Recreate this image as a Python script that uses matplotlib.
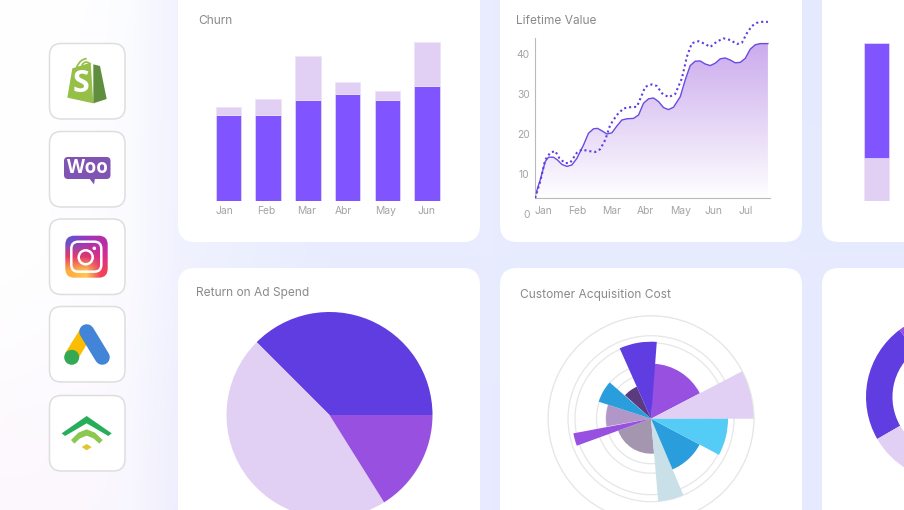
"""Marketing dashboard teaser: icon column plus six cropped chart cards."""

import matplotlib
matplotlib.use("Agg")
import matplotlib.pyplot as plt
import numpy as np
from matplotlib.colors import to_rgb
from matplotlib.patches import Circle, FancyBboxPatch, PathPatch, Polygon
from matplotlib.path import Path

W, H = 904, 510

PURPLE = "#8054FF"
LILAC = "#E1D0F3"
INDIGO = "#5F3DE0"
ORCHID = "#9750E0"
TITLE_GREY = "#8A8A8A"
TICK_GREY = "#A3A3A3"
RING_GREY = "#E6E6E6"

plt.rcParams["font.family"] = ["Inter", "DejaVu Sans"]

# Churn card
churn_months = ["Jan", "Feb", "Mar", "Abr", "May", "Jun"]
churn_lower = [16.2, 16.2, 19.0, 20.0, 19.0, 21.6]
churn_upper = [1.4, 3.0, 8.1, 2.3, 1.7, 8.2]
churn_label_shift = [-0.11, -0.05, -0.03, -0.10, -0.05, -0.02]

# Lifetime value card
ltv_months = ["Jan", "Feb", "Mar", "Abr", "May", "Jun", "Jul"]
ltv_ticks = [0, 10, 20, 30, 40]
ltv_x = [0, .167, .314, .412, .559, .676, .804, .951, 1.098, 1.245, 1.441, 1.588,
         1.735, 1.853, 1.98, 2.127, 2.275, 2.422, 2.569, 2.716, 2.912, 3.059,
         3.206, 3.353, 3.5, 3.647, 3.794, 3.941, 4.088, 4.284, 4.431, 4.578,
         4.725, 4.873, 5.02, 5.167, 5.314, 5.461, 5.608, 5.755, 5.902, 6.049,
         6.196, 6.343, 6.49, 6.637, 6.863]
ltv_actual = [4, 8.5, 13.1, 14.2, 14.2, 13.5, 12.4, 11.9, 12.25, 13.9, 17.25, 20.2,
              21.3, 21.4, 20.8, 20, 20.3, 22, 23.5, 23.8, 23.9, 24.75,
              27.7, 28.8, 29, 28.1, 26.6, 26.1, 26.7, 29.3, 33.5, 37.1,
              38.2, 38.25, 37.5, 37.1, 37.7, 38.8, 39, 38.5, 37.8, 37.9,
              38.9, 41.2, 42.3, 42.6, 42.6]
ltv_goal_x = [.02, .167, .314, .461, .608, .735, .902, 1.049, 1.245, 1.392, 1.588,
              1.784, 1.931, 2.078, 2.225, 2.422, 2.618, 2.814, 3.01, 3.157, 3.255,
              3.451, 3.598, 3.745, 3.941, 4.137, 4.333, 4.48, 4.627, 4.824, 5.02,
              5.167, 5.363, 5.559, 5.755, 5.951, 6.098, 6.245, 6.392, 6.539, 6.735,
              6.863]
ltv_goal = [4, 8.1, 13.5, 15.3, 15.75, 13.9, 12.7, 12.8, 15.3, 16.1, 15.75,
            15.5, 16.2, 18.5, 22.25, 24.75, 26.4, 26.7, 26.8, 29.75, 31.8,
            32.4, 32, 30.2, 29.2, 30, 33.9, 39.3, 42.7, 43.2, 42.5,
            41.75, 43.1, 43.9, 43.5, 42.5, 42.8, 45.2, 47, 47.8, 48.1,
            48]

# Cropped stacked bars on the right edge
side_lilac_bottom = [0, 10.9]
side_lilac_height = [8.06, 18.9]
side_purple_bottom = [8.06]
side_purple_height = [21.6]

# Return on ad spend pie
roas_shares = [135, 167, 58]
roas_colors = [INDIGO, LILAC, ORCHID]

# Customer acquisition cost rose, degrees counter-clockwise from east
cac_rings = [45, 54.5, 76, 83, 103]
cac_start = [162, 200, 114, 27.5, 0, 85.7, 138.7, 190.7, 275, 293, 332]
cac_end = [190, 275, 138, 87.5, 27.5, 114, 162, 200, 293, 332, 360]
cac_radius = [45, 35, 35, 55, 103, 77, 55, 79, 83, 55, 77]
cac_colors = ["#B097C8", "#A496AE", "#5C3A80", ORCHID, LILAC, INDIGO, "#2A9DDC",
              ORCHID, "#C9E0E9", "#2A9DDC", "#55CCF5"]

# Cropped donut on the right edge
donut_shares = [83, 120, 157]
donut_colors = [INDIGO, LILAC, ORCHID]

card_columns = [(178, 302), (500, 302), (822, 120)]
card_rows = [(-30, 272), (268, 272)]
tile_tops = [43.5, 131.5, 219, 306.5, 395.5]


def px_axes(fig, left, top, right, bottom, **kwargs):
    """Axes placed by pixel box, y measured from the top of the image."""
    rect = [left / W, 1 - bottom / H, (right - left) / W, (bottom - top) / H]
    return fig.add_axes(rect, **kwargs)


def draw_background(ax):
    x_stops = [0, 90, 130, 180, 330, 490, 810, 904]
    y_stops = [0, 255, 510]
    rows = [
        ["#FFFFFF", "#FEFEFF", "#FBFCFF", "#F0F2FE", "#E9ECFE", "#E8ECFE", "#E5E9FD", "#E5E9FD"],
        ["#FFFFFF", "#FDFDFF", "#FAFAFF", "#F0F2FE", "#E8ECFE", "#E8ECFE", "#E7EBFE", "#E7EBFE"],
        ["#FCF7FD", "#FBF7FE", "#F8F6FE", "#EEEEFD", "#E9EAFE", "#E8EAFE", "#E7E9FE", "#E7E9FE"],
    ]
    grid = np.array([[to_rgb(c) for c in row] for row in rows])
    xs, ys = np.arange(W), np.arange(H)
    across = np.array([[np.interp(xs, x_stops, grid[r, :, c]) for c in range(3)] for r in range(3)])
    full = np.empty((H, W, 3))
    for c in range(3):
        for i in range(W):
            full[:, i, c] = np.interp(ys, y_stops, across[:, c, i])
    ax.imshow(full, extent=(0, W, H, 0), aspect="auto", interpolation="nearest", zorder=0)
    ax.set_xlim(0, W)
    ax.set_ylim(H, 0)


def draw_cards(ax):
    for left, width in card_columns:
        for top, height in card_rows:
            ax.add_patch(FancyBboxPatch((left, top), width, height,
                                        boxstyle="round,pad=0,rounding_size=17",
                                        fc="white", ec="none", zorder=1))
    ax.text(198, 21, "Churn", color=TITLE_GREY, fontsize=8.6, va="center", zorder=3)
    ax.text(516, 21, "Lifetime Value", color=TITLE_GREY, fontsize=8.6, va="center", zorder=3)
    ax.text(196, 293, "Return on Ad Spend", color=TITLE_GREY, fontsize=8.6, va="center", zorder=3)
    ax.text(520, 295, "Customer Acquisition Cost", color=TITLE_GREY, fontsize=8.6, va="center", zorder=3)


def zoomed(points, ox, oy):
    """Logo outlines were traced on 3x crops, bring them back to image pixels."""
    return [(ox + x / 3, oy + y / 3) for x, y in points]


def draw_shopify(ax):
    ox, oy = 40, 35
    ax.add_patch(Polygon(zoomed([(82, 188), (97, 100), (152, 83), (160, 205)], ox, oy),
                         fc="#95BF47", ec="none", zorder=3))
    ax.add_patch(Polygon(zoomed([(160, 88), (180, 93), (200, 192), (160, 205)], ox, oy),
                         fc="#5E8E3E", ec="none", zorder=3))
    for pts in ([(110, 97), (120, 72), (140, 71)], [(125, 92), (135, 72), (152, 88)]):
        handle = Path(zoomed(pts, ox, oy), [Path.MOVETO, Path.CURVE3, Path.CURVE3])
        ax.add_patch(PathPatch(handle, fc="none", ec="#95BF47", lw=1.2, zorder=3))
    ax.text(81, 83.5, "S", color="white", fontsize=22, fontweight="bold",
            family="Open Sans", ha="center", va="center", zorder=4)


def draw_woo(ax):
    ax.add_patch(FancyBboxPatch((64, 157), 46.5, 22, boxstyle="round,pad=0,rounding_size=4",
                                fc="#7F54B3", ec="none", zorder=3))
    ax.add_patch(Polygon([(89, 178), (94, 184.5), (95, 178)], fc="#7F54B3", ec="none", zorder=3))
    ax.text(87.2, 167.6, "Woo", color="white", fontsize=13.4, fontweight="bold",
            family="Open Sans", ha="center", va="center", zorder=4)


def draw_instagram(ax):
    rows = [["#6A4FD0", "#9B36C0", "#B52EA8"],
            ["#E53A6A", "#E0366E", "#D42F90"],
            ["#FFB040", "#FFC850", "#F0405A"]]
    grid = np.array([[to_rgb(c) for c in row] for row in rows])
    frame = FancyBboxPatch((65.3, 235.7), 42.4, 42, boxstyle="round,pad=0,rounding_size=9",
                           fc="none", ec="none", zorder=3)
    ax.add_patch(frame)
    img = ax.imshow(grid, extent=(65.3, 107.7, 277.7, 235.7), aspect="auto",
                    interpolation="bilinear", zorder=3)
    img.set_clip_path(frame)
    ax.add_patch(FancyBboxPatch((71.3, 241.7), 30, 30, boxstyle="round,pad=0,rounding_size=7",
                                fc="none", ec="white", lw=1.8, zorder=4))
    ax.add_patch(Circle((85.7, 257.3), 7, fc="none", ec="white", lw=1.8, zorder=4))
    ax.add_patch(Circle((94.3, 248.3), 1.8, fc="white", ec="none", zorder=4))


def draw_ads(ax):
    ox, oy = 40, 300
    ax.add_patch(Polygon(zoomed([(120, 88), (75, 160), (115, 175), (142, 130)], ox, oy),
                         fc="#FBBC04", ec="none", zorder=3))
    ax.plot([86.7, 102.3], [331.7, 357.3], color="#4285D8", lw=10.8, solid_capstyle="round", zorder=4)
    ax.add_patch(Circle((71.7, 357.3), 7.5, fc="#34A853", ec="none", zorder=5))


def draw_signal(ax):
    ox, oy = 40, 300
    roof = [(140, 348), (215, 400), (205, 408), (140, 370), (75, 408), (65, 400)]
    band = [(93, 420), (115, 398), (140, 388), (165, 398), (188, 420), (178, 431),
            (160, 415), (140, 407), (120, 415), (103, 431)]
    dot = [(125, 441), (140, 432), (155, 441), (140, 451)]
    ax.add_patch(Polygon(zoomed(roof, ox, oy), fc="#27AE5A", ec="none", zorder=3))
    ax.add_patch(Polygon(zoomed(band, ox, oy), fc="#8CC850", ec="none", zorder=3))
    ax.add_patch(Polygon(zoomed(dot, ox, oy), fc="#E0C630", ec="none", zorder=3))


def draw_icons(ax):
    for top in tile_tops:
        ax.add_patch(FancyBboxPatch((49.5, top), 75.5, 75.5, boxstyle="round,pad=0,rounding_size=12",
                                    fc="white", ec="#DEDEDE", lw=1.1, zorder=2))
    draw_shopify(ax)
    draw_woo(ax)
    draw_instagram(ax)
    draw_ads(ax)
    draw_signal(ax)
    ax.set_xlim(0, W)
    ax.set_ylim(H, 0)


def chart_churn(fig):
    ax = px_axes(fig, 208.65, 41, 446.85, 201)
    x = np.arange(len(churn_months))
    ax.bar(x, churn_lower, width=0.642, color=PURPLE, edgecolor="#E7DEFB", linewidth=0.5)
    ax.bar(x, churn_upper, width=0.642, bottom=churn_lower, color=LILAC, edgecolor="#EDE4F9", linewidth=0.5)
    ax.set_xlim(-0.5, 5.5)
    ax.set_ylim(0, 30)
    ax.set_xticks(x + np.array(churn_label_shift), churn_months)
    ax.set_yticks([])
    ax.tick_params(axis="x", length=0, pad=3.7, labelsize=7.4, labelcolor=TICK_GREY)
    for side in ax.spines.values():
        side.set_visible(False)
    ax.patch.set_alpha(0)


def chart_ltv(fig):
    ax = px_axes(fig, 534.5, 14, 769.5, 214)
    # moving a spine resets its ticks, so this goes before the tick setup
    ax.spines[["top", "right"]].set_visible(False)
    ax.spines["bottom"].set_position(("data", 4))
    ax.spines["left"].set_bounds(4, 44)
    ax.spines["left"].set_color("#B9B9B9")
    ax.spines["bottom"].set_color("#B9B9B9")

    top_y = max(ltv_actual)
    outline = Polygon(list(zip(ltv_x, ltv_actual)) + [(ltv_x[-1], 4)], fc="none", ec="none")
    ax.add_patch(outline)
    fade = np.linspace(0, 1, 128)[:, None, None]
    gradient = np.array(to_rgb("#CBABED")) * (1 - fade) + np.array(to_rgb("#FEFEFF")) * fade
    img = ax.imshow(gradient, extent=(0, ltv_x[-1], 4, top_y), aspect="auto", zorder=1)
    img.set_clip_path(outline)
    ax.plot(ltv_x, ltv_actual, color="#6A4CE0", lw=1.0, zorder=2)
    ax.plot(ltv_goal_x, ltv_goal, color=INDIGO, lw=1.5, linestyle=(0, (1, 1.4)), zorder=3)
    ax.set_xlim(0, 6.91)
    ax.set_ylim(0, 50)
    ax.set_xticks(range(len(ltv_months)), ltv_months)
    ax.set_yticks(ltv_ticks)
    ax.tick_params(length=0, labelsize=7.4, labelcolor=TICK_GREY)
    ax.tick_params(axis="x", pad=5.8)
    ax.tick_params(axis="y", pad=3.5)
    plt.setp(ax.get_xticklabels(), ha="left")
    ax.patch.set_alpha(0)


def chart_side_bars(fig):
    ax = px_axes(fig, 856.85, 41, 936.25, 201)
    x = np.arange(2)
    ax.bar(x, side_lilac_height, width=0.642, bottom=side_lilac_bottom, color=LILAC,
           edgecolor="#EDE4F9", linewidth=0.5)
    ax.bar(x[:1], side_purple_height, width=0.642, bottom=side_purple_bottom, color=PURPLE,
           edgecolor="#E7DEFB", linewidth=0.5)
    ax.set_xlim(-0.5, 1.5)
    ax.set_ylim(0, 30)
    ax.axis("off")


def chart_roas(fig):
    ax = px_axes(fig, 226.5, 312, 432.5, 518)
    ax.pie(roas_shares, colors=roas_colors, startangle=0, radius=1)
    ax.set_xlim(-1, 1)
    ax.set_ylim(-1, 1)


def chart_cac(fig):
    ax = px_axes(fig, 548, 315.7, 754, 521.7, projection="polar")
    start = np.radians(cac_start)
    width = np.radians(cac_end) - start
    ax.bar(start, cac_radius, width=width, align="edge", color=cac_colors, linewidth=0, zorder=2)
    ax.set_rlim(0, 103)
    ax.set_rticks(cac_rings)
    ax.set_yticklabels([])
    ax.set_xticks([])
    ax.set_axisbelow(True)
    ax.grid(True, color=RING_GREY, lw=0.9)
    ax.spines["polar"].set_color(RING_GREY)
    ax.patch.set_alpha(0)


def chart_donut(fig):
    ax = px_axes(fig, 866, 313, 1034, 481)
    ax.pie(donut_shares, colors=donut_colors, startangle=127, radius=1, wedgeprops={"width": 0.315})
    ax.set_xlim(-1, 1)
    ax.set_ylim(-1, 1)


if __name__ == "__main__":
    # the small extra keeps 9.04 * 100 from truncating to 903 pixels
    fig = plt.figure(figsize=((W + 0.01) / 100, (H + 0.01) / 100), dpi=100)
    base = fig.add_axes([0, 0, 1, 1])
    base.axis("off")
    draw_background(base)
    draw_cards(base)
    draw_icons(base)
    chart_churn(fig)
    chart_ltv(fig)
    chart_side_bars(fig)
    chart_roas(fig)
    chart_cac(fig)
    chart_donut(fig)
    fig.savefig("out.png", dpi=100)
    plt.close(fig)
